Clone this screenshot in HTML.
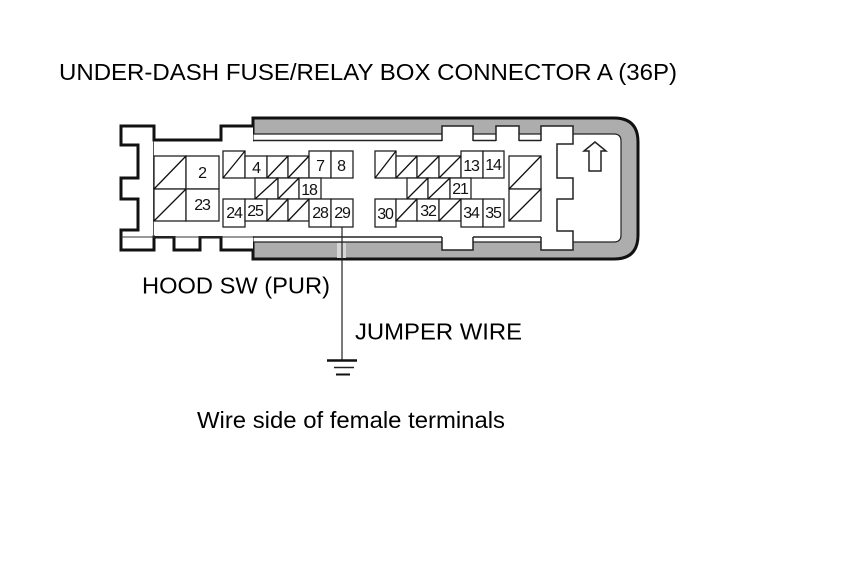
<!DOCTYPE html>
<html><head><meta charset="utf-8"><style>html,body{margin:0;padding:0;background:#fff}svg{display:block}text{font-family:"Liberation Sans",sans-serif;fill:#000}.n{font-size:16px;text-anchor:middle;letter-spacing:-1.1px;fill:#111}.l{font-size:23.5px}</style></head><body>
<svg width="860" height="576" viewBox="0 0 860 576" xmlns="http://www.w3.org/2000/svg">
<rect width="860" height="576" fill="#fff"/>
<text class="l" x="59" y="80" textLength="618" lengthAdjust="spacingAndGlyphs">UNDER-DASH FUSE/RELAY BOX CONNECTOR A (36P)</text>
<text class="l" x="142" y="293.500" textLength="188" lengthAdjust="spacingAndGlyphs">HOOD SW (PUR)</text>
<text class="l" x="355" y="339.500" textLength="167" lengthAdjust="spacingAndGlyphs">JUMPER WIRE</text>
<text class="l" x="197" y="428" textLength="308" lengthAdjust="spacingAndGlyphs">Wire side of female terminals</text>
<!-- gray band -->
<path d="M253 118H614Q638 118 638 142V235Q638 259 614 259H253Z" fill="#adadad" stroke="#111" stroke-width="3"/>
<path d="M253 134H614Q621 134 621 141V235Q621 242 614 242H253Z" fill="#fff" stroke="#222" stroke-width="1.200"/>
<path d="M253 140.500H442M473 140.500H496M519 140.500H541M253 237H442M473 237H541" stroke="#222" stroke-width="1.500" fill="none"/>
<!-- left body -->
<path d="M253 126H221V140H154V126H121V145H138V178H121V199H138V230H121V250H154V237H174V250H200V237H221V250H253" fill="#fff" stroke="#111" stroke-width="3"/>
<path d="M121 237H253" stroke="#333" stroke-width="1"/>
<rect x="155" y="141.500" width="98" height="94.500" fill="#fff"/>
<path d="M153.500 141V236" stroke="#555" stroke-width="1"/>
<!-- tabs -->
<path d="M442 141V126H473V141M442 237V250H473V237M496 141V126H519V141" fill="#fff" stroke="#222" stroke-width="1.500"/>
<path d="M541 141V126H573V144H557V178H573V199H557V231H573V250H541V237" fill="#fff" stroke="#222" stroke-width="1.500"/>
<rect x="253" y="141.500" width="288" height="94.500" fill="#fff"/>
<!-- arrow -->
<path d="M595 142L584 151H589V171H601V151H606Z" fill="#fff" stroke="#222" stroke-width="1.500"/>
<!-- wire -->
<rect x="337" y="243" width="9" height="15" fill="#d6d6d6"/>
<path d="M342 227V360" stroke="#222" stroke-width="1.200"/>
<path d="M327 360.500H357" stroke="#111" stroke-width="2.500"/>
<path d="M334 367.500H354" stroke="#222" stroke-width="1.500"/>
<path d="M336 374.500H350" stroke="#111" stroke-width="2"/>
<!-- cells -->
<g fill="#fff" stroke="#222" stroke-width="1.300">
<rect x="154" y="156" width="32" height="33"/><rect x="186" y="156" width="33" height="33"/>
<rect x="154" y="189" width="32" height="32"/><rect x="186" y="189" width="33" height="32"/>
<rect x="223" y="151" width="22" height="27"/><rect x="245" y="156" width="22" height="22"/><rect x="267" y="156" width="21" height="22"/><rect x="288" y="156" width="21" height="22"/><rect x="309" y="151" width="22" height="27"/><rect x="331" y="151" width="22" height="27"/>
<rect x="255" y="178" width="23" height="21"/><rect x="278" y="178" width="21" height="21"/><rect x="299" y="178" width="22" height="21"/>
<rect x="223" y="199" width="22" height="28"/><rect x="245" y="199" width="22" height="22"/><rect x="267" y="199" width="21" height="22"/><rect x="288" y="199" width="21" height="22"/><rect x="309" y="199" width="22" height="28"/><rect x="331" y="199" width="22" height="28"/>
<rect x="375" y="151" width="21" height="27"/><rect x="396" y="156" width="21" height="22"/><rect x="417" y="156" width="22" height="22"/><rect x="439" y="156" width="22" height="22"/><rect x="461" y="151" width="22" height="27"/><rect x="483" y="151" width="21" height="27"/>
<rect x="407" y="178" width="21" height="21"/><rect x="428" y="178" width="22" height="21"/><rect x="450" y="178" width="21" height="21"/>
<rect x="375" y="199" width="21" height="28"/><rect x="396" y="199" width="21" height="22"/><rect x="417" y="199" width="22" height="22"/><rect x="439" y="199" width="22" height="22"/><rect x="461" y="199" width="22" height="28"/><rect x="483" y="199" width="21" height="28"/>
<rect x="509" y="156" width="32" height="33"/><rect x="509" y="189" width="32" height="32"/>
</g>
<!-- diagonals -->
<path d="M154 189L186 156M154 221L186 189M223 178L245 151M267 178L288 156M288 178L309 156M255 199L278 178M278 199L299 178M267 221L288 199M288 221L309 199M375 178L396 151M396 178L417 156M417 178L439 156M439 178L461 156M407 199L428 178M428 199L450 178M396 221L417 199M439 221L461 199M509 189L541 156M509 221L541 189" stroke="#111" stroke-width="1.300" fill="none"/>
<!-- numbers -->
<text class="n" x="202" y="178">2</text><text class="n" x="202" y="210">23</text>
<text class="n" x="256" y="173">4</text><text class="n" x="320" y="171">7</text><text class="n" x="341" y="171">8</text>
<text class="n" x="309" y="195">18</text>
<text class="n" x="234" y="218">24</text><text class="n" x="255" y="216">25</text><text class="n" x="320" y="218">28</text><text class="n" x="342" y="218">29</text>
<text class="n" x="471" y="171">13</text><text class="n" x="493" y="170">14</text><text class="n" x="460" y="194">21</text>
<text class="n" x="385" y="219">30</text><text class="n" x="428" y="216">32</text><text class="n" x="471" y="218">34</text><text class="n" x="493" y="218">35</text>
</svg>
</body></html>
